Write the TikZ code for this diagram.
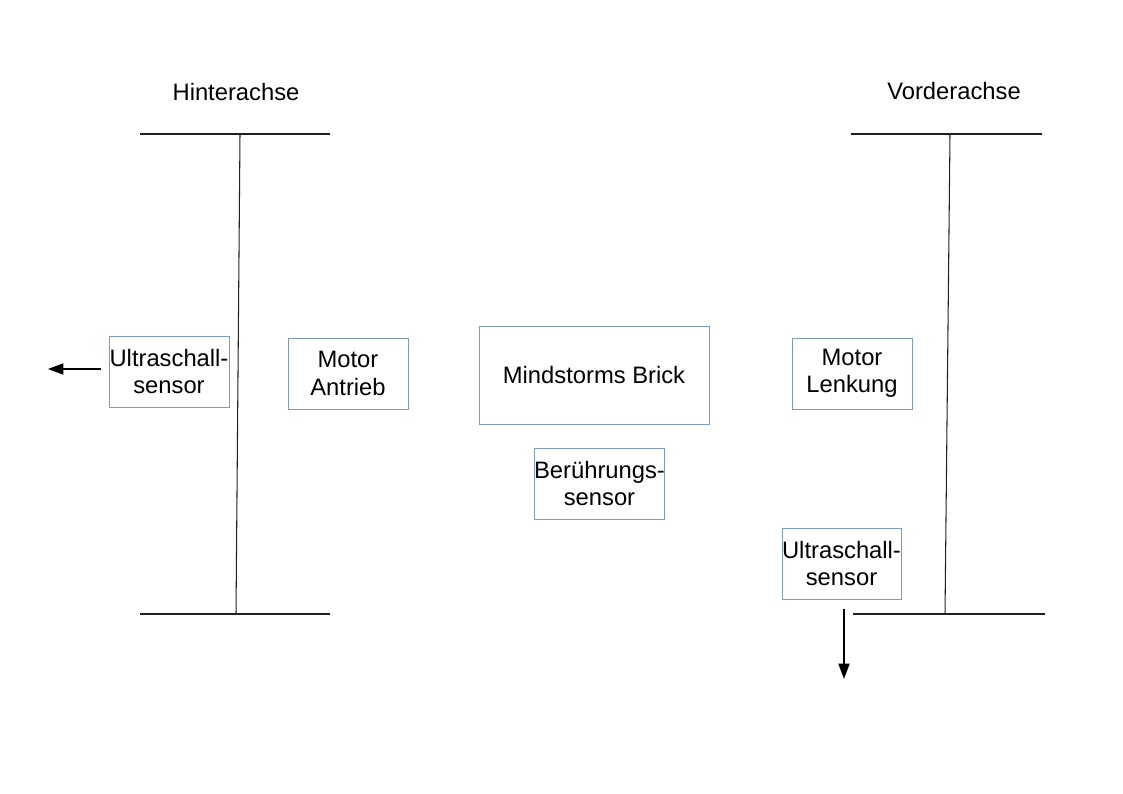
\documentclass[tikz,border=0pt]{standalone}
\usepackage{fontspec}
\setmainfont{Liberation Sans}
\usetikzlibrary{arrows.meta}
\definecolor{boxblue}{HTML}{7F9AC0}
\definecolor{axlegray}{HTML}{202020}

\begin{document}
\begin{tikzpicture}[
        x=0.025cm, y=-0.025cm,
        every node/.style={font=\fontsize{16.9}{19.5}\selectfont},
        part/.style={draw=boxblue, line width=0.7pt, align=center, inner sep=0pt,
            minimum width=120*0.025cm, minimum height=71*0.025cm},
        axle/.style={draw=axlegray, line width=0.75pt},
        signal/.style={-{Triangle[length=11pt,width=8pt]}, line width=0.75pt}
    ]
        \useasboundingbox (0, 0) rectangle (1123, 794);

        % axles
        \node (hinten) at (236, 92) {Hinterachse};
        \node (vorne) at (954, 91) {Vorderachse};
        \draw[axle] (140, 134) -- (330, 134);
        \draw[axle] (140, 614) -- (330, 614);
        \draw[axle] (240, 134) -- (236, 614);
        \draw[axle] (851, 134) -- (1042, 134);
        \draw[axle] (853, 614) -- (1045, 614);
        \draw[axle] (950, 134) -- (945, 614);

        % parts
        \node[part] (usHinten) at (169, 371.5) {Ultraschall-\\sensor};
        \node[part] (motorAntrieb) at (348, 373.5) {Motor\\Antrieb};
        \node[part, minimum width=230*0.025cm, minimum height=98*0.025cm] (brick) at (594, 375) {Mindstorms Brick};
        \node[part, minimum width=129*0.025cm] (touch) at (599.5, 483.5) {Berührungs-\\sensor};
        \node[part] (motorLenkung) at (852, 373.5) {Motor\\Lenkung};
        \node[part, minimum width=119*0.025cm] (usVorne) at (841.5, 563.5) {Ultraschall-\\sensor};

        % sensor directions
        \coordinate (usHintenEnd) at (48, 369);
        \coordinate (usVorneEnd) at (844, 679);
        \draw[signal, shorten <=8*0.025cm] (usHinten.west |- usHintenEnd) -- (usHintenEnd);
        \draw[signal, shorten <=10*0.025cm] (usVorne.south -| usVorneEnd) -- (usVorneEnd);
    \end{tikzpicture}
\end{document}
